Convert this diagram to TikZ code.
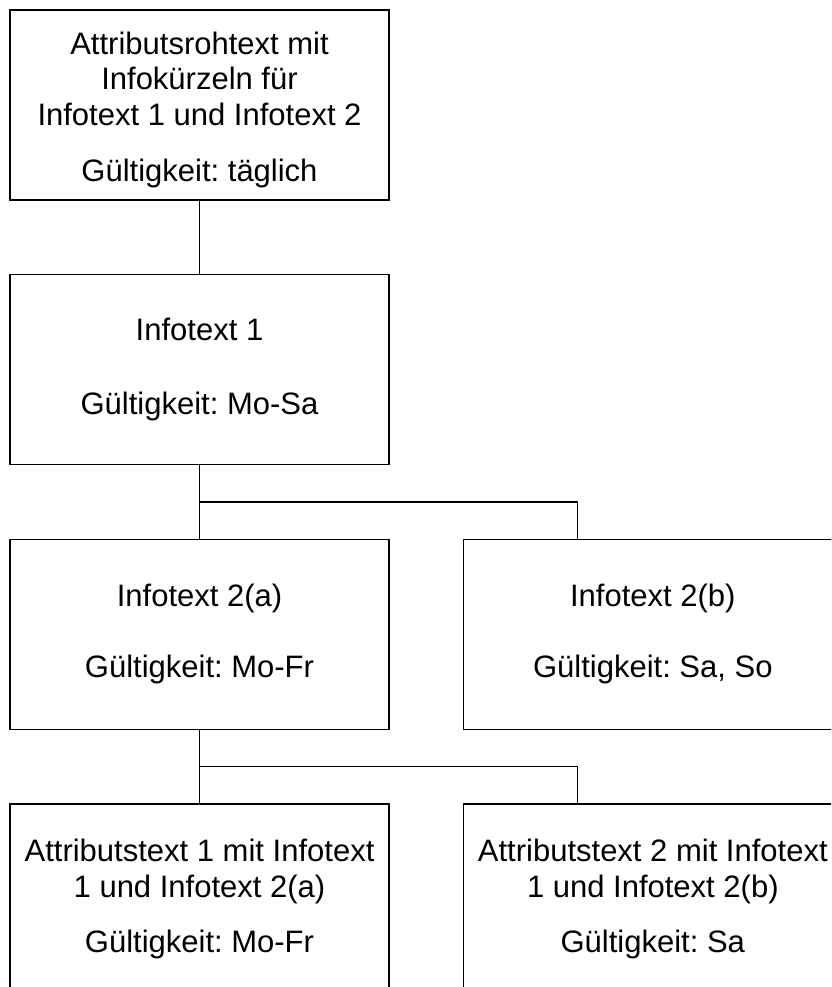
\documentclass[tikz,border=0pt]{standalone}
\usepackage{fontspec}
\setmainfont{Liberation Sans}
\frenchspacing
\begin{document}
\begin{tikzpicture}[
    x=0.75pt,
    y=-0.75pt,
    every node/.style={font={\fontsize{23.25}{26.6}\selectfont}},
    infobox/.style={draw=black, line width=0.8pt, align=center, inner sep=0pt, minimum width=284.25pt, minimum height=142.5pt},
    edge/.style={draw=black, line width=0.8pt}
]
    \clip (0,0) rectangle (831,987);

    \coordinate (rohc) at (199.5, 105);
    \coordinate (info1c) at (199.5, 369.5);
    \coordinate (info2ac) at (199.5, 634.3);
    \coordinate (info2bc) at (652.8, 634.3);
    \coordinate (attr1c) at (199.5, 899);
    \coordinate (attr2c) at (652.8, 899);

    \coordinate (forkA) at (199.5, 502);
    \coordinate (forkAr) at (577.6, 502);
    \coordinate (forkB) at (199.5, 766.7);
    \coordinate (forkBr) at (577.6, 766.7);

    % top box: extra height on the first line pushes the text a little lower
    \node[infobox] (roh) at (rohc) {\rule{0pt}{24.5pt}Attributsrohtext mit\\Infokürzeln für\\Infotext 1 und Infotext 2\\[15.9pt]Gültigkeit: täglich};
    \node[infobox] (info1) at (info1c) {Infotext 1\\[28.4pt]Gültigkeit: Mo-Sa};
    \node[infobox] (info2a) at (info2ac) {Infotext 2(a)\\[26.4pt]Gültigkeit: Mo-Fr};
    \node[infobox] (info2b) at (info2bc) {Infotext 2(b)\\[26.4pt]Gültigkeit: Sa, So};
    \node[infobox] (attr1) at (attr1c) {Attributstext 1 mit Infotext\\1 und Infotext 2(a)\\[14.6pt]Gültigkeit: Mo-Fr};
    \node[infobox] (attr2) at (attr2c) {Attributstext 2 mit Infotext\\1 und Infotext 2(b)\\[14.6pt]Gültigkeit: Sa};

    \draw[edge] (roh) -- (info1);
    \draw[edge] (info1) -- (forkA) -- (forkAr) -- (forkAr |- info2b.north);
    \draw[edge] (forkA) -- (info2a);
    \draw[edge] (info2a) -- (forkB) -- (forkBr) -- (forkBr |- attr2.north);
    \draw[edge] (forkB) -- (attr1);

\end{tikzpicture}
\end{document}
